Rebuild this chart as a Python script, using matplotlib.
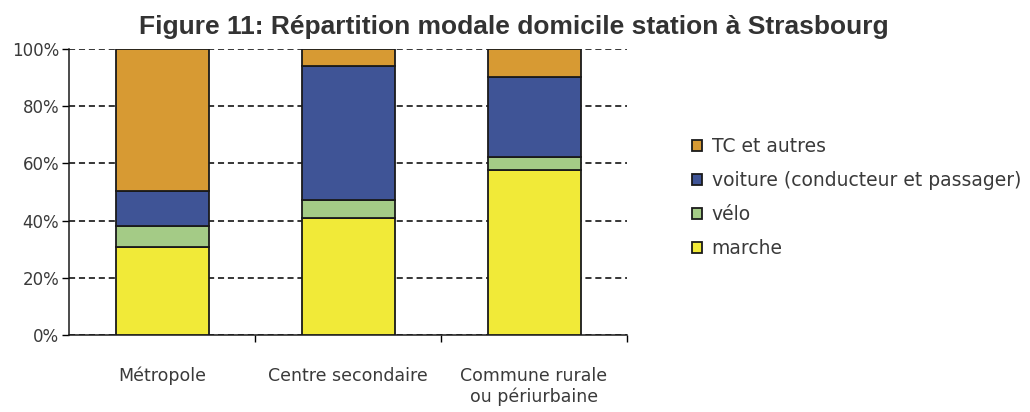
import numpy as np
import matplotlib.pyplot as plt
from matplotlib.ticker import MultipleLocator, FixedLocator, PercentFormatter

categories = ["Métropole", "Centre secondaire", "Commune rurale\nou périurbaine"]
marche = [30.7, 41.0, 57.7]
velo = [7.5, 6.2, 4.6]
voiture = [12.0, 46.9, 28.0]
tc = [49.8, 5.9, 9.7]

series = [("marche", marche, "#F1EA38"),
          ("vélo", velo, "#A4CB86"),
          ("voiture (conducteur et passager)", voiture, "#3F5496"),
          ("TC et autres", tc, "#D79A33")]

police = "DejaVu Sans"
gris = "#3a3a3a"

fig = plt.figure(figsize=(10.3, 4.12), dpi=100)
ax = fig.add_axes([69 / 1030, 1 - 335 / 412, 558 / 1030, 286 / 412])

x = np.arange(len(categories))
bottom = np.zeros(len(categories))
handles = []
for nom, vals, couleur in series:
    b = ax.bar(x, vals, 0.5, bottom=bottom, color=couleur, edgecolor="#1a1a1a",
               linewidth=1.3, label=nom, zorder=3)
    handles.append(b)
    bottom += np.array(vals)

ax.set_xlim(-0.5, 2.5)
ax.set_ylim(0, 100)
ax.yaxis.set_major_locator(MultipleLocator(20))
ax.yaxis.set_major_formatter(PercentFormatter(decimals=0))
ax.grid(axis="y", color="black", linestyle=(0, (4, 2.5)), linewidth=1.1, zorder=0)

ax.set_xticks(x)
ax.set_xticklabels(categories, fontsize=12.5, color=gris, family=police, linespacing=1.2)
ax.xaxis.set_minor_locator(FixedLocator([0.5, 1.5, 2.5]))
ax.tick_params(axis="x", which="major", length=0, pad=23)
ax.tick_params(axis="x", which="minor", length=5, width=1, direction="out")
ax.tick_params(axis="y", length=5, width=1, labelsize=12, labelcolor=gris, pad=2)
for lab in ax.get_yticklabels():
    lab.set_family(police)

for s in ["top", "right"]:
    ax.spines[s].set_visible(False)
for s in ["left", "bottom"]:
    ax.spines[s].set_linewidth(1.1)
    ax.spines[s].set_color("#1a1a1a")

leg = fig.legend(handles[::-1], [h.get_label() for h in handles[::-1]],
                 loc="upper left", bbox_to_anchor=(675 / 1030, 1 - 120 / 412),
                 frameon=False, handlelength=0.55, handleheight=0.55,
                 handletextpad=0.5, labelspacing=0.8, prop={"family": police, "size": 13.5})
for t in leg.get_texts():
    t.set_color(gris)

fig.text(0.4985, 1 - 34 / 412, "Figure 11: Répartition modale domicile station à Strasbourg",
         ha="center", va="baseline", fontsize=19, fontweight="bold",
         family="Liberation Sans", color="#333333")

fig.savefig("out.png", dpi=100)
